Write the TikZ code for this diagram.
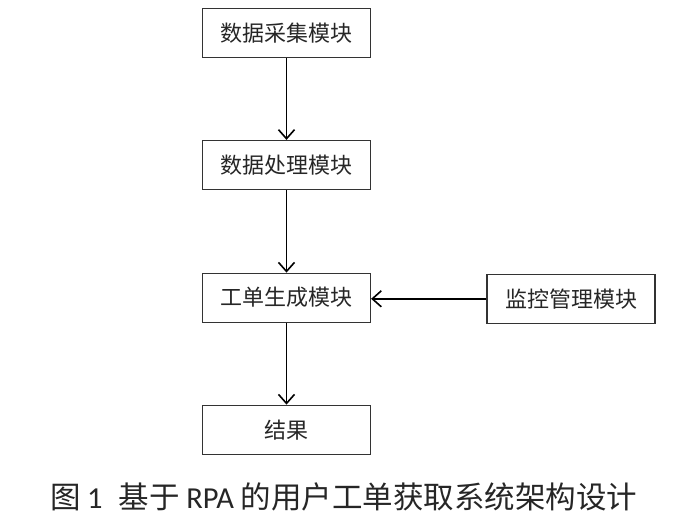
\documentclass[tikz,border=0pt]{standalone}
\usepackage{fontspec}
\setmainfont{Noto Sans CJK SC}
\newfontfamily\latinf{Carlito}
\usetikzlibrary{arrows.meta}
\begin{document}
\begin{tikzpicture}[x=1pt,y=-1pt,
  modbox/.style={draw=black!80,line width=1.2pt,minimum width=168pt,minimum height=49pt,inner sep=0pt,font=\fontsize{22}{24}\selectfont,text=black!85},
  conn/.style={line width=1.8pt,-{Straight Barb[length=9pt,width=16pt,line width=1.6pt]}}]
\useasboundingbox (0,0) rectangle (688,516);
\node[modbox] (a) at (286.5,33) {数据采集模块};
\node[modbox] (b) at (286.5,165) {数据处理模块};
\node[modbox] (c) at (286.5,297.7) {工单生成模块};
\node[modbox] (d) at (571,298.8) {监控管理模块};
\node[modbox] (e) at (286.5,429.7) {结果};
\draw[conn] (a) -- (b);
\draw[conn] (b) -- (c);
\draw[conn] (c) -- (e);
\draw[conn] (d.west) -- (c.east |- d.west);
\node[font=\fontsize{30.5}{32}\selectfont,text=black!85,inner sep=0pt] (cap) at (344,497) {图\hspace{6pt}{\latinf 1}\hspace{16pt}基于 {\latinf RPA} 的用户工单获取系统架构设计};
\end{tikzpicture}
\end{document}
